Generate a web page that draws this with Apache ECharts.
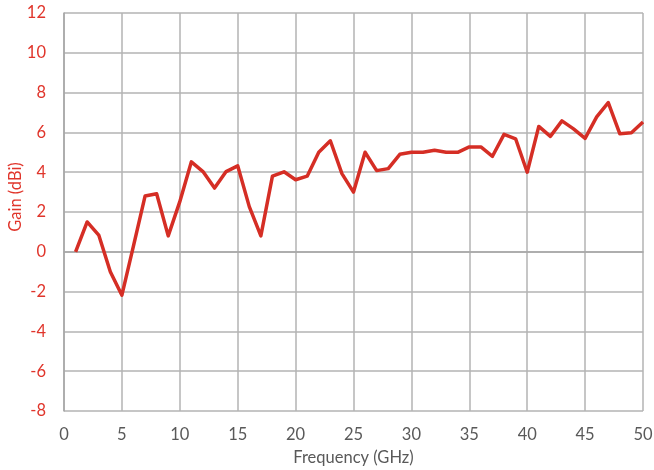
<!DOCTYPE html>
<html><head><meta charset="utf-8">
<script src="https://cdn.jsdelivr.net/npm/echarts@6/dist/echarts.min.js"></script>
<style>html,body{margin:0;padding:0;background:#fff}#c{width:654px;height:470px}</style>
</head><body><div id="c"></div>
<script>
const freq = [1,2,3,4,5,6,7,8,9,10,11,12,13,14,15,16,17,18,19,20,21,22,23,24,25,26,27,28,29,30,31,32,33,34,35,36,37,38,39,40,41,42,43,44,45,46,47,48,49,50];
const gain = [0,1.5,0.84,-1.0,-2.18,0.3,2.8,2.92,0.8,2.52,4.52,4.03,3.2,4.03,4.32,2.27,0.8,3.8,4.02,3.62,3.8,5.0,5.58,3.93,3.0,5.0,4.08,4.18,4.9,5.0,5.0,5.1,5.0,5.0,5.27,5.27,4.8,5.9,5.68,4.0,6.3,5.8,6.58,6.18,5.7,6.78,7.5,5.93,5.98,6.52];
const yTicks = {min:-8, max:12, interval:2};
const xTicks = {min:0, max:50, interval:5};
const font = 'Lato, "Open Sans", sans-serif';
const chart = echarts.init(document.getElementById('c'), null, {renderer:'canvas'});
chart.setOption({
  animation:false,
  grid:{left:64, right:11, top:13, bottom:59, containLabel:false, outerBoundsMode:'none'},
  xAxis:{type:'value', min:xTicks.min, max:xTicks.max, interval:xTicks.interval,
    name:'Frequency (GHz)', nameLocation:'middle', nameGap:38, nameMoveOverlap:false,
    nameTextStyle:{color:'#595959', fontSize:16.5, fontFamily:font},
    axisLine:{show:true, lineStyle:{color:'#a6a6a6', width:1.5}},
    axisTick:{show:false},
    axisLabel:{color:'#595959', fontSize:16.5, fontFamily:font, margin:15},
    splitLine:{show:true, lineStyle:{color:'#b3b3b3', width:1.5}}},
  yAxis:{type:'value', min:yTicks.min, max:yTicks.max, interval:yTicks.interval,
    name:'Gain (dBi)', nameLocation:'middle', nameGap:40, nameRotate:90, nameMoveOverlap:false,
    nameTextStyle:{color:'#e0352b', fontSize:16.5, fontFamily:font, padding:[0,0,0,30]},
    axisLine:{show:true, lineStyle:{color:'#a6a6a6', width:1.5}},
    axisTick:{show:false},
    axisLabel:{color:'#e0352b', fontSize:16.5, fontFamily:font, margin:18},
    splitLine:{show:true, lineStyle:{color:'#b3b3b3', width:1.5}}},
  series:[{type:'line', data:freq.map((f,i)=>[f,gain[i]]), symbol:'none',
    lineStyle:{color:'#d52e25', width:3.5, join:'round'}}]
});
</script></body></html>
